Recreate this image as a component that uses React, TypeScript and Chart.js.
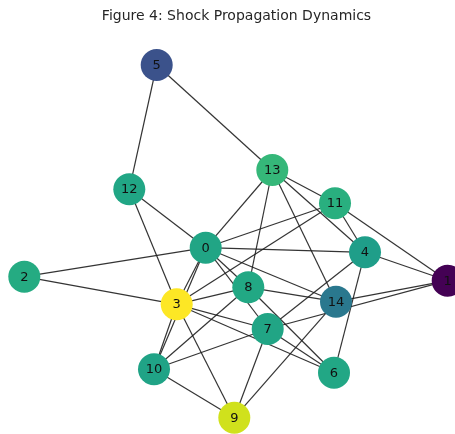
import React, { useEffect, useRef } from "react";
import { Chart, registerables } from "chart.js";

Chart.register(...registerables);

const TITLE = "Figure 4: Shock Propagation Dynamics";

const nodeLabels = ["0", "1", "2", "3", "4", "5", "6", "7", "8", "9", "10", "11", "12", "13", "14"];
const nodeX = [205.7, 447.7, 24.3, 176.7, 365, 156.7, 334, 267.7, 248.3, 234.3, 154, 335, 129.3, 272.3, 336];
const nodeY = [247.7, 280.7, 276.7, 304.3, 252.3, 65, 372.7, 329, 287.3, 417.7, 369.3, 203.3, 189.3, 170, 301.7];
const nodeColors = [
  "#21a585", "#440154", "#25ab82", "#fde725", "#1f9e89",
  "#3b528b", "#22a785", "#21a585", "#22a884", "#d0e11c",
  "#20a386", "#29af7f", "#21a685", "#35b779", "#2a788e",
];

const edgeFrom = [5, 5, 13, 13, 13, 13, 13, 12, 12, 11, 11, 11, 11, 0, 0, 0, 0, 0, 0, 0, 2, 3, 3, 3, 3, 3, 8, 8, 8, 4, 4, 4, 1, 1, 14, 7, 7, 7, 10];
const edgeTo   = [12, 13, 0, 8, 11, 4, 14, 0, 3, 0, 3, 4, 1, 2, 4, 3, 10, 8, 7, 14, 3, 10, 8, 7, 6, 9, 14, 10, 6, 1, 7, 6, 14, 7, 9, 10, 6, 9, 9];

export default function App() {
  const ref = useRef<HTMLCanvasElement>(null);

  useEffect(() => {
    document.body.style.margin = "0";
    const canvas = ref.current;
    if (!canvas) return;

    const edgeDatasets = edgeFrom.map((a, i) => {
      const b = edgeTo[i];
      return {
        type: "line" as const,
        data: [
          { x: nodeX[a], y: nodeY[a] },
          { x: nodeX[b], y: nodeY[b] },
        ],
        showLine: true,
        borderColor: "rgba(30,30,30,0.9)",
        borderWidth: 1.2,
        pointRadius: 0,
        pointHoverRadius: 0,
        fill: false,
        order: 1,
        clip: false as any,
      };
    });

    const nodeDataset = {
      type: "scatter" as const,
      data: nodeX.map((x, i) => ({ x, y: nodeY[i] })),
      pointRadius: 16,
      pointHoverRadius: 16,
      pointBackgroundColor: nodeColors,
      pointBorderWidth: 0,
      borderWidth: 0,
      order: 0,
      clip: false as any,
    };

    const labelPlugin = {
      id: "nodeLabels",
      afterDatasetsDraw(chart: any) {
        const ctx = chart.ctx;
        const meta = chart.getDatasetMeta(0);
        ctx.save();
        ctx.font = "13px 'DejaVu Sans'";
        ctx.fillStyle = "#111111";
        ctx.textAlign = "center";
        ctx.textBaseline = "middle";
        meta.data.forEach((pt: any, i: number) => {
          ctx.fillText(nodeLabels[i], pt.x, pt.y + 0.5);
        });
        ctx.fillStyle = "#262626";
        ctx.font = "14px 'DejaVu Sans'";
        ctx.fillText(TITLE, 236.5, 16);
        ctx.restore();
      },
    };

    const chart = new Chart(canvas, {
      type: "scatter",
      data: { datasets: [nodeDataset as any, ...(edgeDatasets as any[])] },
      options: {
        animation: false,
        responsive: false,
        devicePixelRatio: 1,
        layout: { padding: 0, autoPadding: false },
        plugins: {
          legend: { display: false },
          tooltip: { enabled: false },
          title: { display: false },
        },
        scales: {
          x: { type: "linear", min: 0, max: 455, display: false },
          y: { type: "linear", min: 0, max: 434, reverse: true, display: false },
        },
      },
      plugins: [labelPlugin],
    });

    return () => chart.destroy();
  }, []);

  return <canvas ref={ref} width={455} height={434} style={{ display: "block", width: 455, height: 434 }} />;
}
